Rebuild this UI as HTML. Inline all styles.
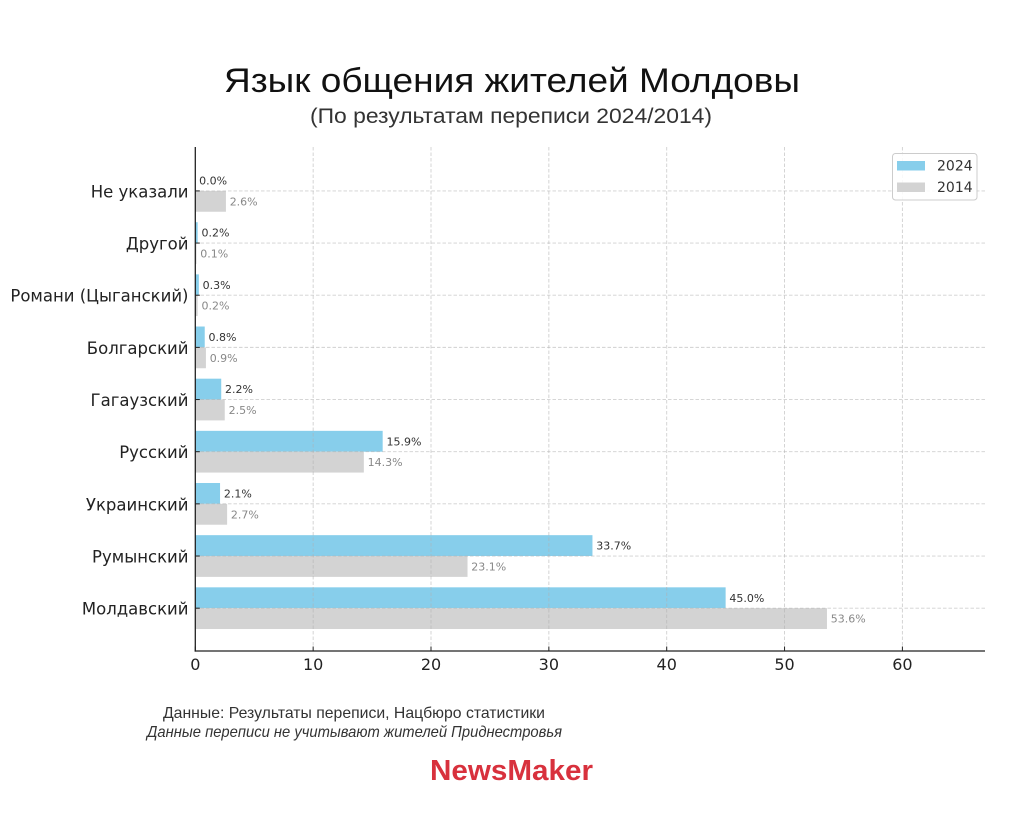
<!DOCTYPE html>
<html><head><meta charset="utf-8"><style>
html,body{margin:0;padding:0;background:#fff;}
svg{display:block;}
.yl{font-family:"DejaVu Sans","Liberation Sans",sans-serif;font-size:16.5px;fill:#222;}
.xl{font-family:"DejaVu Sans","Liberation Sans",sans-serif;font-size:16px;fill:#222;}
.vl{font-family:"DejaVu Sans","Liberation Sans",sans-serif;font-size:11px;}
</style></head><body>
<svg width="1024" height="819" viewBox="0 0 1024 819" xmlns="http://www.w3.org/2000/svg">
<rect width="1024" height="819" fill="#fff"/>
<!-- title -->
<text x="224" y="92" font-family="Liberation Sans, sans-serif" font-size="34" fill="#111" textLength="576" lengthAdjust="spacingAndGlyphs">Язык общения жителей Молдовы</text>
<text x="310" y="123" font-family="Liberation Sans, sans-serif" font-size="21" fill="#333" textLength="402" lengthAdjust="spacingAndGlyphs">(По результатам переписи 2024/2014)</text>

<!-- bars -->
<g fill="#87CEEB">
<rect x="195.3" y="222.2" width="2.36" height="20.86"/>
<rect x="195.3" y="274.36" width="3.54" height="20.86"/>
<rect x="195.3" y="326.52" width="9.43" height="20.86"/>
<rect x="195.3" y="378.68" width="25.93" height="20.86"/>
<rect x="195.3" y="430.84" width="187.38" height="20.86"/>
<rect x="195.3" y="483.0" width="24.75" height="20.86"/>
<rect x="195.3" y="535.16" width="397.15" height="20.86"/>
<rect x="195.3" y="587.32" width="530.33" height="20.86"/>
</g>
<g fill="#D3D3D3">
<rect x="195.3" y="190.9" width="30.64" height="20.86"/>
<rect x="195.3" y="243.06" width="1.18" height="20.86"/>
<rect x="195.3" y="295.22" width="2.36" height="20.86"/>
<rect x="195.3" y="347.38" width="10.61" height="20.86"/>
<rect x="195.3" y="399.54" width="29.46" height="20.86"/>
<rect x="195.3" y="451.7" width="168.53" height="20.86"/>
<rect x="195.3" y="503.86" width="31.82" height="20.86"/>
<rect x="195.3" y="556.02" width="272.23" height="20.86"/>
<rect x="195.3" y="608.18" width="631.68" height="20.86"/>
</g>

<!-- grid -->
<g stroke="#b0b0b0" stroke-opacity="0.6" stroke-width="0.9" stroke-dasharray="3.5,2" fill="none">
<line x1="313.15" y1="147" x2="313.15" y2="651"/>
<line x1="431.0" y1="147" x2="431.0" y2="651"/>
<line x1="548.85" y1="147" x2="548.85" y2="651"/>
<line x1="666.7" y1="147" x2="666.7" y2="651"/>
<line x1="784.55" y1="147" x2="784.55" y2="651"/>
<line x1="902.4" y1="147" x2="902.4" y2="651"/>
<line x1="195" y1="190.9" x2="985" y2="190.9"/>
<line x1="195" y1="243.06" x2="985" y2="243.06"/>
<line x1="195" y1="295.22" x2="985" y2="295.22"/>
<line x1="195" y1="347.38" x2="985" y2="347.38"/>
<line x1="195" y1="399.54" x2="985" y2="399.54"/>
<line x1="195" y1="451.7" x2="985" y2="451.7"/>
<line x1="195" y1="503.86" x2="985" y2="503.86"/>
<line x1="195" y1="556.02" x2="985" y2="556.02"/>
<line x1="195" y1="608.18" x2="985" y2="608.18"/>
</g>

<!-- value labels -->
<g class="vl" fill="#333">
<text x="199.1" y="184.5">0.0%</text>
<text x="201.5" y="236.7">0.2%</text>
<text x="202.6" y="288.8">0.3%</text>
<text x="208.5" y="341.0">0.8%</text>
<text x="225.0" y="393.1">2.2%</text>
<text x="386.5" y="445.3">15.9%</text>
<text x="223.9" y="497.5">2.1%</text>
<text x="596.3" y="549.6">33.7%</text>
<text x="729.4" y="601.8">45.0%</text>
</g>
<g class="vl" fill="#888">
<text x="229.7" y="205.3">2.6%</text>
<text x="200.3" y="257.5">0.1%</text>
<text x="201.5" y="309.6">0.2%</text>
<text x="209.7" y="361.8">0.9%</text>
<text x="228.6" y="414.0">2.5%</text>
<text x="367.6" y="466.1">14.3%</text>
<text x="230.9" y="518.3">2.7%</text>
<text x="471.3" y="570.4">23.1%</text>
<text x="830.8" y="622.6">53.6%</text>
</g>

<!-- spines -->
<g stroke="#222" stroke-width="1.3">
<line x1="195.3" y1="147" x2="195.3" y2="651.6"/>
<line x1="194.7" y1="651" x2="985" y2="651"/>
</g>
<!-- ticks -->
<g stroke="#222" stroke-width="1">
<line x1="195.3" y1="646.5" x2="195.3" y2="651"/>
<line x1="313.15" y1="646.5" x2="313.15" y2="651"/>
<line x1="431.0" y1="646.5" x2="431.0" y2="651"/>
<line x1="548.85" y1="646.5" x2="548.85" y2="651"/>
<line x1="666.7" y1="646.5" x2="666.7" y2="651"/>
<line x1="784.55" y1="646.5" x2="784.55" y2="651"/>
<line x1="902.4" y1="646.5" x2="902.4" y2="651"/>
<line x1="195.3" y1="190.9" x2="199.8" y2="190.9"/>
<line x1="195.3" y1="243.06" x2="199.8" y2="243.06"/>
<line x1="195.3" y1="295.22" x2="199.8" y2="295.22"/>
<line x1="195.3" y1="347.38" x2="199.8" y2="347.38"/>
<line x1="195.3" y1="399.54" x2="199.8" y2="399.54"/>
<line x1="195.3" y1="451.7" x2="199.8" y2="451.7"/>
<line x1="195.3" y1="503.86" x2="199.8" y2="503.86"/>
<line x1="195.3" y1="556.02" x2="199.8" y2="556.02"/>
<line x1="195.3" y1="608.18" x2="199.8" y2="608.18"/>
</g>

<!-- x tick labels -->
<g class="xl" text-anchor="middle">
<text x="195.3" y="670">0</text>
<text x="313.15" y="670">10</text>
<text x="431.0" y="670">20</text>
<text x="548.85" y="670">30</text>
<text x="666.7" y="670">40</text>
<text x="784.55" y="670">50</text>
<text x="902.4" y="670">60</text>
</g>
<!-- y tick labels -->
<g class="yl" text-anchor="end">
<text x="188.5" y="197.3">Не указали</text>
<text x="188.5" y="249.5">Другой</text>
<text x="188.5" y="301.6">Романи (Цыганский)</text>
<text x="188.5" y="353.8">Болгарский</text>
<text x="188.5" y="405.9">Гагаузский</text>
<text x="188.5" y="458.1">Русский</text>
<text x="188.5" y="510.3">Украинский</text>
<text x="188.5" y="562.4">Румынский</text>
<text x="188.5" y="614.6">Молдавский</text>
</g>

<!-- legend -->
<rect x="892.5" y="153.5" width="84.5" height="46.5" rx="3" fill="#fff" fill-opacity="0.85" stroke="#ccc" stroke-width="1"/>
<rect x="897" y="161" width="28" height="9.5" fill="#87CEEB"/>
<rect x="897" y="182.5" width="28" height="9.5" fill="#D3D3D3"/>
<text x="937" y="170.7" font-family="DejaVu Sans, sans-serif" font-size="14" fill="#333">2024</text>
<text x="937" y="191.9" font-family="DejaVu Sans, sans-serif" font-size="14" fill="#333">2014</text>

<!-- footer -->
<text x="163" y="718" font-family="Liberation Sans, sans-serif" font-size="16" fill="#333" textLength="382" lengthAdjust="spacingAndGlyphs">Данные: Результаты переписи, Нацбюро статистики</text>
<text x="147" y="737" font-family="Liberation Sans, sans-serif" font-size="16" font-style="italic" fill="#333" textLength="415" lengthAdjust="spacingAndGlyphs">Данные переписи не учитывают жителей Приднестровья</text>
<text x="430" y="780" font-family="Liberation Sans, sans-serif" font-size="29" font-weight="bold" fill="#D8313D" textLength="163" lengthAdjust="spacingAndGlyphs">NewsMaker</text>
</svg>
</body></html>
